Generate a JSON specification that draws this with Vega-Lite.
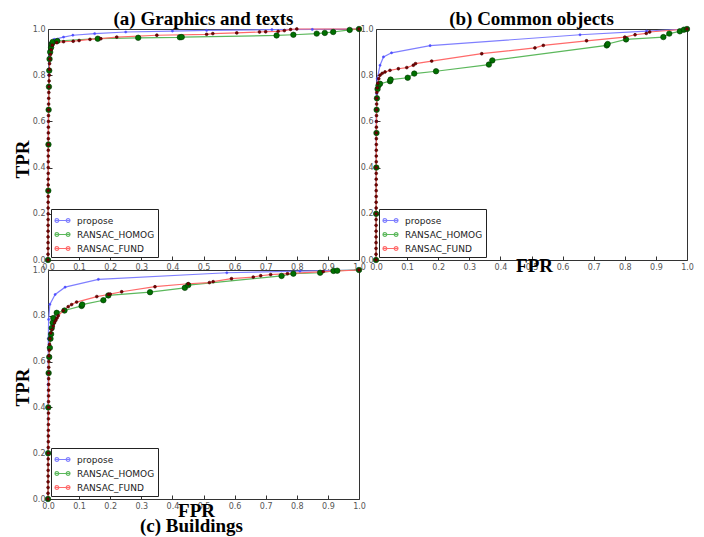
{
  "$schema": "https://vega.github.io/schema/vega-lite/v6.json",
  "padding": {"left": 12, "top": 9, "right": 0, "bottom": 0},
  "background": "white",
  "bounds": "flush",
  "columns": 2,
  "spacing": {"row": 10, "column": 17},
  "resolve": {"scale": {"color": "independent"}, "legend": {"color": "independent"}},
  "datasets": {
    "roc": [
      {"panel": "a", "method": "propose", "fpr": 0, "tpr": 0},
      {"panel": "a", "method": "propose", "fpr": 0.001, "tpr": 0.5},
      {"panel": "a", "method": "propose", "fpr": 0.002, "tpr": 0.8},
      {"panel": "a", "method": "propose", "fpr": 0.004, "tpr": 0.9},
      {"panel": "a", "method": "propose", "fpr": 0.008, "tpr": 0.94},
      {"panel": "a", "method": "propose", "fpr": 0.02, "tpr": 0.955},
      {"panel": "a", "method": "propose", "fpr": 0.05, "tpr": 0.965},
      {"panel": "a", "method": "propose", "fpr": 0.08, "tpr": 0.973},
      {"panel": "a", "method": "propose", "fpr": 0.15, "tpr": 0.98},
      {"panel": "a", "method": "propose", "fpr": 0.25, "tpr": 0.987},
      {"panel": "a", "method": "propose", "fpr": 0.4, "tpr": 0.991},
      {"panel": "a", "method": "propose", "fpr": 0.51, "tpr": 0.994},
      {"panel": "a", "method": "propose", "fpr": 0.72, "tpr": 0.997},
      {"panel": "a", "method": "propose", "fpr": 0.85, "tpr": 0.998},
      {"panel": "a", "method": "propose", "fpr": 1, "tpr": 1},
      {"panel": "a", "method": "RANSAC_HOMOG", "fpr": 0, "tpr": 0},
      {"panel": "a", "method": "RANSAC_HOMOG", "fpr": 0.001, "tpr": 0.3},
      {"panel": "a", "method": "RANSAC_HOMOG", "fpr": 0.0015, "tpr": 0.5},
      {"panel": "a", "method": "RANSAC_HOMOG", "fpr": 0.002, "tpr": 0.65},
      {"panel": "a", "method": "RANSAC_HOMOG", "fpr": 0.003, "tpr": 0.75},
      {"panel": "a", "method": "RANSAC_HOMOG", "fpr": 0.004, "tpr": 0.82},
      {"panel": "a", "method": "RANSAC_HOMOG", "fpr": 0.005, "tpr": 0.87},
      {"panel": "a", "method": "RANSAC_HOMOG", "fpr": 0.007, "tpr": 0.9},
      {"panel": "a", "method": "RANSAC_HOMOG", "fpr": 0.01, "tpr": 0.92},
      {"panel": "a", "method": "RANSAC_HOMOG", "fpr": 0.012, "tpr": 0.935},
      {"panel": "a", "method": "RANSAC_HOMOG", "fpr": 0.015, "tpr": 0.944},
      {"panel": "a", "method": "RANSAC_HOMOG", "fpr": 0.03, "tpr": 0.948},
      {"panel": "a", "method": "RANSAC_HOMOG", "fpr": 0.16, "tpr": 0.958},
      {"panel": "a", "method": "RANSAC_HOMOG", "fpr": 0.29, "tpr": 0.962},
      {"panel": "a", "method": "RANSAC_HOMOG", "fpr": 0.424, "tpr": 0.964},
      {"panel": "a", "method": "RANSAC_HOMOG", "fpr": 0.43, "tpr": 0.965},
      {"panel": "a", "method": "RANSAC_HOMOG", "fpr": 0.735, "tpr": 0.972},
      {"panel": "a", "method": "RANSAC_HOMOG", "fpr": 0.789, "tpr": 0.975},
      {"panel": "a", "method": "RANSAC_HOMOG", "fpr": 0.864, "tpr": 0.98},
      {"panel": "a", "method": "RANSAC_HOMOG", "fpr": 0.89, "tpr": 0.983},
      {"panel": "a", "method": "RANSAC_HOMOG", "fpr": 0.917, "tpr": 0.987},
      {"panel": "a", "method": "RANSAC_HOMOG", "fpr": 0.97, "tpr": 0.996},
      {"panel": "a", "method": "RANSAC_HOMOG", "fpr": 1, "tpr": 1},
      {"panel": "a", "method": "RANSAC_FUND", "fpr": 0, "tpr": 0},
      {"panel": "a", "method": "RANSAC_FUND", "fpr": 0.00005, "tpr": 0.025},
      {"panel": "a", "method": "RANSAC_FUND", "fpr": 0.0001, "tpr": 0.05},
      {"panel": "a", "method": "RANSAC_FUND", "fpr": 0.00015, "tpr": 0.075},
      {"panel": "a", "method": "RANSAC_FUND", "fpr": 0.0002, "tpr": 0.1},
      {"panel": "a", "method": "RANSAC_FUND", "fpr": 0.00025, "tpr": 0.125},
      {"panel": "a", "method": "RANSAC_FUND", "fpr": 0.0003, "tpr": 0.15},
      {"panel": "a", "method": "RANSAC_FUND", "fpr": 0.00035, "tpr": 0.175},
      {"panel": "a", "method": "RANSAC_FUND", "fpr": 0.0004, "tpr": 0.2},
      {"panel": "a", "method": "RANSAC_FUND", "fpr": 0.00045, "tpr": 0.225},
      {"panel": "a", "method": "RANSAC_FUND", "fpr": 0.0005, "tpr": 0.25},
      {"panel": "a", "method": "RANSAC_FUND", "fpr": 0.00055, "tpr": 0.275},
      {"panel": "a", "method": "RANSAC_FUND", "fpr": 0.0006, "tpr": 0.3},
      {"panel": "a", "method": "RANSAC_FUND", "fpr": 0.00065, "tpr": 0.325},
      {"panel": "a", "method": "RANSAC_FUND", "fpr": 0.0007, "tpr": 0.35},
      {"panel": "a", "method": "RANSAC_FUND", "fpr": 0.00075, "tpr": 0.375},
      {"panel": "a", "method": "RANSAC_FUND", "fpr": 0.0008, "tpr": 0.4},
      {"panel": "a", "method": "RANSAC_FUND", "fpr": 0.00085, "tpr": 0.425},
      {"panel": "a", "method": "RANSAC_FUND", "fpr": 0.0009, "tpr": 0.45},
      {"panel": "a", "method": "RANSAC_FUND", "fpr": 0.00095, "tpr": 0.475},
      {"panel": "a", "method": "RANSAC_FUND", "fpr": 0.001, "tpr": 0.5},
      {"panel": "a", "method": "RANSAC_FUND", "fpr": 0.0011, "tpr": 0.525},
      {"panel": "a", "method": "RANSAC_FUND", "fpr": 0.0012, "tpr": 0.55},
      {"panel": "a", "method": "RANSAC_FUND", "fpr": 0.0013, "tpr": 0.575},
      {"panel": "a", "method": "RANSAC_FUND", "fpr": 0.0014, "tpr": 0.6},
      {"panel": "a", "method": "RANSAC_FUND", "fpr": 0.0016, "tpr": 0.625},
      {"panel": "a", "method": "RANSAC_FUND", "fpr": 0.0018, "tpr": 0.65},
      {"panel": "a", "method": "RANSAC_FUND", "fpr": 0.002, "tpr": 0.675},
      {"panel": "a", "method": "RANSAC_FUND", "fpr": 0.0023, "tpr": 0.7},
      {"panel": "a", "method": "RANSAC_FUND", "fpr": 0.0026, "tpr": 0.725},
      {"panel": "a", "method": "RANSAC_FUND", "fpr": 0.003, "tpr": 0.75},
      {"panel": "a", "method": "RANSAC_FUND", "fpr": 0.0035, "tpr": 0.775},
      {"panel": "a", "method": "RANSAC_FUND", "fpr": 0.004, "tpr": 0.8},
      {"panel": "a", "method": "RANSAC_FUND", "fpr": 0.0045, "tpr": 0.825},
      {"panel": "a", "method": "RANSAC_FUND", "fpr": 0.005, "tpr": 0.85},
      {"panel": "a", "method": "RANSAC_FUND", "fpr": 0.006, "tpr": 0.87},
      {"panel": "a", "method": "RANSAC_FUND", "fpr": 0.008, "tpr": 0.89},
      {"panel": "a", "method": "RANSAC_FUND", "fpr": 0.01, "tpr": 0.91},
      {"panel": "a", "method": "RANSAC_FUND", "fpr": 0.014, "tpr": 0.93},
      {"panel": "a", "method": "RANSAC_FUND", "fpr": 0.028, "tpr": 0.941},
      {"panel": "a", "method": "RANSAC_FUND", "fpr": 0.05, "tpr": 0.945},
      {"panel": "a", "method": "RANSAC_FUND", "fpr": 0.081, "tpr": 0.947},
      {"panel": "a", "method": "RANSAC_FUND", "fpr": 0.1, "tpr": 0.95},
      {"panel": "a", "method": "RANSAC_FUND", "fpr": 0.135, "tpr": 0.955},
      {"panel": "a", "method": "RANSAC_FUND", "fpr": 0.17, "tpr": 0.958},
      {"panel": "a", "method": "RANSAC_FUND", "fpr": 0.221, "tpr": 0.965},
      {"panel": "a", "method": "RANSAC_FUND", "fpr": 0.35, "tpr": 0.973},
      {"panel": "a", "method": "RANSAC_FUND", "fpr": 0.51, "tpr": 0.977},
      {"panel": "a", "method": "RANSAC_FUND", "fpr": 0.53, "tpr": 0.98},
      {"panel": "a", "method": "RANSAC_FUND", "fpr": 0.607, "tpr": 0.983},
      {"panel": "a", "method": "RANSAC_FUND", "fpr": 0.68, "tpr": 0.987},
      {"panel": "a", "method": "RANSAC_FUND", "fpr": 0.7, "tpr": 0.988},
      {"panel": "a", "method": "RANSAC_FUND", "fpr": 0.74, "tpr": 0.99},
      {"panel": "a", "method": "RANSAC_FUND", "fpr": 0.76, "tpr": 0.993},
      {"panel": "a", "method": "RANSAC_FUND", "fpr": 0.78, "tpr": 0.998},
      {"panel": "a", "method": "RANSAC_FUND", "fpr": 0.8, "tpr": 1},
      {"panel": "a", "method": "RANSAC_FUND", "fpr": 1, "tpr": 1},

      {"panel": "b", "method": "propose", "fpr": 0, "tpr": 0},
      {"panel": "b", "method": "propose", "fpr": 0.0005, "tpr": 0.4},
      {"panel": "b", "method": "propose", "fpr": 0.001, "tpr": 0.6},
      {"panel": "b", "method": "propose", "fpr": 0.002, "tpr": 0.72},
      {"panel": "b", "method": "propose", "fpr": 0.004, "tpr": 0.785},
      {"panel": "b", "method": "propose", "fpr": 0.013, "tpr": 0.843},
      {"panel": "b", "method": "propose", "fpr": 0.024, "tpr": 0.879},
      {"panel": "b", "method": "propose", "fpr": 0.05, "tpr": 0.897},
      {"panel": "b", "method": "propose", "fpr": 0.174, "tpr": 0.928},
      {"panel": "b", "method": "propose", "fpr": 0.656, "tpr": 0.975},
      {"panel": "b", "method": "propose", "fpr": 0.87, "tpr": 0.991},
      {"panel": "b", "method": "propose", "fpr": 1, "tpr": 1},
      {"panel": "b", "method": "RANSAC_HOMOG", "fpr": 0, "tpr": 0},
      {"panel": "b", "method": "RANSAC_HOMOG", "fpr": 0.0005, "tpr": 0.2},
      {"panel": "b", "method": "RANSAC_HOMOG", "fpr": 0.001, "tpr": 0.4},
      {"panel": "b", "method": "RANSAC_HOMOG", "fpr": 0.0015, "tpr": 0.55},
      {"panel": "b", "method": "RANSAC_HOMOG", "fpr": 0.002, "tpr": 0.65},
      {"panel": "b", "method": "RANSAC_HOMOG", "fpr": 0.003, "tpr": 0.7},
      {"panel": "b", "method": "RANSAC_HOMOG", "fpr": 0.005, "tpr": 0.74},
      {"panel": "b", "method": "RANSAC_HOMOG", "fpr": 0.008, "tpr": 0.755},
      {"panel": "b", "method": "RANSAC_HOMOG", "fpr": 0.013, "tpr": 0.763},
      {"panel": "b", "method": "RANSAC_HOMOG", "fpr": 0.045, "tpr": 0.774},
      {"panel": "b", "method": "RANSAC_HOMOG", "fpr": 0.047, "tpr": 0.781},
      {"panel": "b", "method": "RANSAC_HOMOG", "fpr": 0.102, "tpr": 0.789},
      {"panel": "b", "method": "RANSAC_HOMOG", "fpr": 0.123, "tpr": 0.807},
      {"panel": "b", "method": "RANSAC_HOMOG", "fpr": 0.193, "tpr": 0.817},
      {"panel": "b", "method": "RANSAC_HOMOG", "fpr": 0.363, "tpr": 0.846},
      {"panel": "b", "method": "RANSAC_HOMOG", "fpr": 0.374, "tpr": 0.864},
      {"panel": "b", "method": "RANSAC_HOMOG", "fpr": 0.742, "tpr": 0.929},
      {"panel": "b", "method": "RANSAC_HOMOG", "fpr": 0.745, "tpr": 0.935},
      {"panel": "b", "method": "RANSAC_HOMOG", "fpr": 0.804, "tpr": 0.955},
      {"panel": "b", "method": "RANSAC_HOMOG", "fpr": 0.924, "tpr": 0.965},
      {"panel": "b", "method": "RANSAC_HOMOG", "fpr": 0.943, "tpr": 0.98},
      {"panel": "b", "method": "RANSAC_HOMOG", "fpr": 0.977, "tpr": 0.99},
      {"panel": "b", "method": "RANSAC_HOMOG", "fpr": 0.99, "tpr": 0.997},
      {"panel": "b", "method": "RANSAC_HOMOG", "fpr": 1, "tpr": 1},
      {"panel": "b", "method": "RANSAC_FUND", "fpr": 0, "tpr": 0},
      {"panel": "b", "method": "RANSAC_FUND", "fpr": 0.00005, "tpr": 0.025},
      {"panel": "b", "method": "RANSAC_FUND", "fpr": 0.0001, "tpr": 0.05},
      {"panel": "b", "method": "RANSAC_FUND", "fpr": 0.00015, "tpr": 0.075},
      {"panel": "b", "method": "RANSAC_FUND", "fpr": 0.0002, "tpr": 0.1},
      {"panel": "b", "method": "RANSAC_FUND", "fpr": 0.00025, "tpr": 0.125},
      {"panel": "b", "method": "RANSAC_FUND", "fpr": 0.0003, "tpr": 0.15},
      {"panel": "b", "method": "RANSAC_FUND", "fpr": 0.00035, "tpr": 0.175},
      {"panel": "b", "method": "RANSAC_FUND", "fpr": 0.0004, "tpr": 0.2},
      {"panel": "b", "method": "RANSAC_FUND", "fpr": 0.00045, "tpr": 0.225},
      {"panel": "b", "method": "RANSAC_FUND", "fpr": 0.0005, "tpr": 0.25},
      {"panel": "b", "method": "RANSAC_FUND", "fpr": 0.00055, "tpr": 0.275},
      {"panel": "b", "method": "RANSAC_FUND", "fpr": 0.0006, "tpr": 0.3},
      {"panel": "b", "method": "RANSAC_FUND", "fpr": 0.00065, "tpr": 0.325},
      {"panel": "b", "method": "RANSAC_FUND", "fpr": 0.0007, "tpr": 0.35},
      {"panel": "b", "method": "RANSAC_FUND", "fpr": 0.00075, "tpr": 0.375},
      {"panel": "b", "method": "RANSAC_FUND", "fpr": 0.0008, "tpr": 0.4},
      {"panel": "b", "method": "RANSAC_FUND", "fpr": 0.00085, "tpr": 0.425},
      {"panel": "b", "method": "RANSAC_FUND", "fpr": 0.0009, "tpr": 0.45},
      {"panel": "b", "method": "RANSAC_FUND", "fpr": 0.00095, "tpr": 0.475},
      {"panel": "b", "method": "RANSAC_FUND", "fpr": 0.001, "tpr": 0.5},
      {"panel": "b", "method": "RANSAC_FUND", "fpr": 0.0011, "tpr": 0.525},
      {"panel": "b", "method": "RANSAC_FUND", "fpr": 0.0012, "tpr": 0.55},
      {"panel": "b", "method": "RANSAC_FUND", "fpr": 0.0013, "tpr": 0.575},
      {"panel": "b", "method": "RANSAC_FUND", "fpr": 0.0014, "tpr": 0.6},
      {"panel": "b", "method": "RANSAC_FUND", "fpr": 0.0016, "tpr": 0.625},
      {"panel": "b", "method": "RANSAC_FUND", "fpr": 0.0018, "tpr": 0.65},
      {"panel": "b", "method": "RANSAC_FUND", "fpr": 0.002, "tpr": 0.675},
      {"panel": "b", "method": "RANSAC_FUND", "fpr": 0.0023, "tpr": 0.7},
      {"panel": "b", "method": "RANSAC_FUND", "fpr": 0.0026, "tpr": 0.725},
      {"panel": "b", "method": "RANSAC_FUND", "fpr": 0.004, "tpr": 0.745},
      {"panel": "b", "method": "RANSAC_FUND", "fpr": 0.006, "tpr": 0.765},
      {"panel": "b", "method": "RANSAC_FUND", "fpr": 0.009, "tpr": 0.785},
      {"panel": "b", "method": "RANSAC_FUND", "fpr": 0.013, "tpr": 0.8},
      {"panel": "b", "method": "RANSAC_FUND", "fpr": 0.02, "tpr": 0.808},
      {"panel": "b", "method": "RANSAC_FUND", "fpr": 0.029, "tpr": 0.814},
      {"panel": "b", "method": "RANSAC_FUND", "fpr": 0.045, "tpr": 0.821},
      {"panel": "b", "method": "RANSAC_FUND", "fpr": 0.072, "tpr": 0.828},
      {"panel": "b", "method": "RANSAC_FUND", "fpr": 0.099, "tpr": 0.833},
      {"panel": "b", "method": "RANSAC_FUND", "fpr": 0.12, "tpr": 0.843},
      {"panel": "b", "method": "RANSAC_FUND", "fpr": 0.127, "tpr": 0.85},
      {"panel": "b", "method": "RANSAC_FUND", "fpr": 0.179, "tpr": 0.861},
      {"panel": "b", "method": "RANSAC_FUND", "fpr": 0.34, "tpr": 0.893},
      {"panel": "b", "method": "RANSAC_FUND", "fpr": 0.511, "tpr": 0.918},
      {"panel": "b", "method": "RANSAC_FUND", "fpr": 0.538, "tpr": 0.929},
      {"panel": "b", "method": "RANSAC_FUND", "fpr": 0.677, "tpr": 0.949},
      {"panel": "b", "method": "RANSAC_FUND", "fpr": 0.8, "tpr": 0.965},
      {"panel": "b", "method": "RANSAC_FUND", "fpr": 0.833, "tpr": 0.975},
      {"panel": "b", "method": "RANSAC_FUND", "fpr": 0.869, "tpr": 0.981},
      {"panel": "b", "method": "RANSAC_FUND", "fpr": 0.88, "tpr": 0.987},
      {"panel": "b", "method": "RANSAC_FUND", "fpr": 1, "tpr": 1},

      {"panel": "c", "method": "propose", "fpr": 0, "tpr": 0},
      {"panel": "c", "method": "propose", "fpr": 0.0005, "tpr": 0.5},
      {"panel": "c", "method": "propose", "fpr": 0.001, "tpr": 0.7},
      {"panel": "c", "method": "propose", "fpr": 0.002, "tpr": 0.784},
      {"panel": "c", "method": "propose", "fpr": 0.006, "tpr": 0.85},
      {"panel": "c", "method": "propose", "fpr": 0.023, "tpr": 0.893},
      {"panel": "c", "method": "propose", "fpr": 0.055, "tpr": 0.925},
      {"panel": "c", "method": "propose", "fpr": 0.162, "tpr": 0.959},
      {"panel": "c", "method": "propose", "fpr": 0.575, "tpr": 0.988},
      {"panel": "c", "method": "propose", "fpr": 0.81, "tpr": 0.995},
      {"panel": "c", "method": "propose", "fpr": 1, "tpr": 1},
      {"panel": "c", "method": "RANSAC_HOMOG", "fpr": 0, "tpr": 0},
      {"panel": "c", "method": "RANSAC_HOMOG", "fpr": 0.0005, "tpr": 0.2},
      {"panel": "c", "method": "RANSAC_HOMOG", "fpr": 0.001, "tpr": 0.4},
      {"panel": "c", "method": "RANSAC_HOMOG", "fpr": 0.002, "tpr": 0.55},
      {"panel": "c", "method": "RANSAC_HOMOG", "fpr": 0.004, "tpr": 0.62},
      {"panel": "c", "method": "RANSAC_HOMOG", "fpr": 0.006, "tpr": 0.66},
      {"panel": "c", "method": "RANSAC_HOMOG", "fpr": 0.008, "tpr": 0.7},
      {"panel": "c", "method": "RANSAC_HOMOG", "fpr": 0.01, "tpr": 0.72},
      {"panel": "c", "method": "RANSAC_HOMOG", "fpr": 0.012, "tpr": 0.747},
      {"panel": "c", "method": "RANSAC_HOMOG", "fpr": 0.015, "tpr": 0.77},
      {"panel": "c", "method": "RANSAC_HOMOG", "fpr": 0.017, "tpr": 0.79},
      {"panel": "c", "method": "RANSAC_HOMOG", "fpr": 0.028, "tpr": 0.813},
      {"panel": "c", "method": "RANSAC_HOMOG", "fpr": 0.053, "tpr": 0.823},
      {"panel": "c", "method": "RANSAC_HOMOG", "fpr": 0.108, "tpr": 0.843},
      {"panel": "c", "method": "RANSAC_HOMOG", "fpr": 0.11, "tpr": 0.849},
      {"panel": "c", "method": "RANSAC_HOMOG", "fpr": 0.178, "tpr": 0.868},
      {"panel": "c", "method": "RANSAC_HOMOG", "fpr": 0.194, "tpr": 0.889},
      {"panel": "c", "method": "RANSAC_HOMOG", "fpr": 0.328, "tpr": 0.903},
      {"panel": "c", "method": "RANSAC_HOMOG", "fpr": 0.44, "tpr": 0.922},
      {"panel": "c", "method": "RANSAC_HOMOG", "fpr": 0.451, "tpr": 0.934},
      {"panel": "c", "method": "RANSAC_HOMOG", "fpr": 0.751, "tpr": 0.974},
      {"panel": "c", "method": "RANSAC_HOMOG", "fpr": 0.789, "tpr": 0.984},
      {"panel": "c", "method": "RANSAC_HOMOG", "fpr": 0.875, "tpr": 0.988},
      {"panel": "c", "method": "RANSAC_HOMOG", "fpr": 0.918, "tpr": 0.996},
      {"panel": "c", "method": "RANSAC_HOMOG", "fpr": 0.93, "tpr": 0.997},
      {"panel": "c", "method": "RANSAC_HOMOG", "fpr": 1, "tpr": 1},
      {"panel": "c", "method": "RANSAC_FUND", "fpr": 0, "tpr": 0},
      {"panel": "c", "method": "RANSAC_FUND", "fpr": 0.0001, "tpr": 0.025},
      {"panel": "c", "method": "RANSAC_FUND", "fpr": 0.0002, "tpr": 0.05},
      {"panel": "c", "method": "RANSAC_FUND", "fpr": 0.0003, "tpr": 0.075},
      {"panel": "c", "method": "RANSAC_FUND", "fpr": 0.0004, "tpr": 0.1},
      {"panel": "c", "method": "RANSAC_FUND", "fpr": 0.0005, "tpr": 0.125},
      {"panel": "c", "method": "RANSAC_FUND", "fpr": 0.0006, "tpr": 0.15},
      {"panel": "c", "method": "RANSAC_FUND", "fpr": 0.0007, "tpr": 0.175},
      {"panel": "c", "method": "RANSAC_FUND", "fpr": 0.0008, "tpr": 0.2},
      {"panel": "c", "method": "RANSAC_FUND", "fpr": 0.0009, "tpr": 0.225},
      {"panel": "c", "method": "RANSAC_FUND", "fpr": 0.001, "tpr": 0.25},
      {"panel": "c", "method": "RANSAC_FUND", "fpr": 0.0011, "tpr": 0.275},
      {"panel": "c", "method": "RANSAC_FUND", "fpr": 0.0012, "tpr": 0.3},
      {"panel": "c", "method": "RANSAC_FUND", "fpr": 0.0013, "tpr": 0.325},
      {"panel": "c", "method": "RANSAC_FUND", "fpr": 0.0014, "tpr": 0.35},
      {"panel": "c", "method": "RANSAC_FUND", "fpr": 0.0015, "tpr": 0.375},
      {"panel": "c", "method": "RANSAC_FUND", "fpr": 0.0016, "tpr": 0.4},
      {"panel": "c", "method": "RANSAC_FUND", "fpr": 0.0017, "tpr": 0.425},
      {"panel": "c", "method": "RANSAC_FUND", "fpr": 0.0018, "tpr": 0.45},
      {"panel": "c", "method": "RANSAC_FUND", "fpr": 0.0019, "tpr": 0.475},
      {"panel": "c", "method": "RANSAC_FUND", "fpr": 0.002, "tpr": 0.5},
      {"panel": "c", "method": "RANSAC_FUND", "fpr": 0.0021, "tpr": 0.525},
      {"panel": "c", "method": "RANSAC_FUND", "fpr": 0.0022, "tpr": 0.55},
      {"panel": "c", "method": "RANSAC_FUND", "fpr": 0.0023, "tpr": 0.575},
      {"panel": "c", "method": "RANSAC_FUND", "fpr": 0.0024, "tpr": 0.6},
      {"panel": "c", "method": "RANSAC_FUND", "fpr": 0.003, "tpr": 0.625},
      {"panel": "c", "method": "RANSAC_FUND", "fpr": 0.004, "tpr": 0.65},
      {"panel": "c", "method": "RANSAC_FUND", "fpr": 0.005, "tpr": 0.675},
      {"panel": "c", "method": "RANSAC_FUND", "fpr": 0.0065, "tpr": 0.7},
      {"panel": "c", "method": "RANSAC_FUND", "fpr": 0.009, "tpr": 0.725},
      {"panel": "c", "method": "RANSAC_FUND", "fpr": 0.013, "tpr": 0.74},
      {"panel": "c", "method": "RANSAC_FUND", "fpr": 0.017, "tpr": 0.755},
      {"panel": "c", "method": "RANSAC_FUND", "fpr": 0.021, "tpr": 0.77},
      {"panel": "c", "method": "RANSAC_FUND", "fpr": 0.025, "tpr": 0.78},
      {"panel": "c", "method": "RANSAC_FUND", "fpr": 0.029, "tpr": 0.79},
      {"panel": "c", "method": "RANSAC_FUND", "fpr": 0.033, "tpr": 0.8},
      {"panel": "c", "method": "RANSAC_FUND", "fpr": 0.049, "tpr": 0.823},
      {"panel": "c", "method": "RANSAC_FUND", "fpr": 0.065, "tpr": 0.84},
      {"panel": "c", "method": "RANSAC_FUND", "fpr": 0.076, "tpr": 0.849},
      {"panel": "c", "method": "RANSAC_FUND", "fpr": 0.092, "tpr": 0.86},
      {"panel": "c", "method": "RANSAC_FUND", "fpr": 0.157, "tpr": 0.884},
      {"panel": "c", "method": "RANSAC_FUND", "fpr": 0.194, "tpr": 0.893},
      {"panel": "c", "method": "RANSAC_FUND", "fpr": 0.2, "tpr": 0.895},
      {"panel": "c", "method": "RANSAC_FUND", "fpr": 0.237, "tpr": 0.905},
      {"panel": "c", "method": "RANSAC_FUND", "fpr": 0.344, "tpr": 0.927},
      {"panel": "c", "method": "RANSAC_FUND", "fpr": 0.451, "tpr": 0.94},
      {"panel": "c", "method": "RANSAC_FUND", "fpr": 0.519, "tpr": 0.945},
      {"panel": "c", "method": "RANSAC_FUND", "fpr": 0.531, "tpr": 0.949},
      {"panel": "c", "method": "RANSAC_FUND", "fpr": 0.59, "tpr": 0.962},
      {"panel": "c", "method": "RANSAC_FUND", "fpr": 0.66, "tpr": 0.969},
      {"panel": "c", "method": "RANSAC_FUND", "fpr": 0.684, "tpr": 0.975},
      {"panel": "c", "method": "RANSAC_FUND", "fpr": 0.716, "tpr": 0.98},
      {"panel": "c", "method": "RANSAC_FUND", "fpr": 0.77, "tpr": 0.984},
      {"panel": "c", "method": "RANSAC_FUND", "fpr": 0.885, "tpr": 0.993},
      {"panel": "c", "method": "RANSAC_FUND", "fpr": 1, "tpr": 1}
    ]
  },
  "concat": [
    {
      "width": 311, "height": 231,
      "title": {"text": "(a) Graphics and texts"},
      "data": {"name": "roc"},
      "transform": [{"filter": "datum.panel === 'a'"}],
      "layer": [
        {
          "mark": {"type": "line", "strokeWidth": 1.2},
          "encoding": {
            "x": {"field": "fpr", "type": "quantitative", "scale": {"domain": [0, 1], "nice": false, "zero": false}, "axis": {"title": null}},
            "y": {"field": "tpr", "type": "quantitative", "scale": {"domain": [0, 1], "nice": false, "zero": false}, "axis": {"title": "TPR", "titleX": -20, "titleY": 130, "titleBaseline": "alphabetic"}},
            "color": {"field": "method", "type": "nominal", "scale": {"domain": ["propose", "RANSAC_HOMOG", "RANSAC_FUND"], "range": ["#7f7fff", "#5cb85c", "#ff6a6a"]}, "legend": {"symbolSize": 225}}
          }
        },
        {"transform": [{"filter": "datum.method === 'propose'"}], "mark": {"type": "point", "filled": true, "opacity": 1, "size": 5, "fill": "#4d4dff", "stroke": "#4d4dff", "strokeWidth": 0.5}, "encoding": {"x": {"field": "fpr", "type": "quantitative"}, "y": {"field": "tpr", "type": "quantitative"}}},
        {"transform": [{"filter": "datum.method === 'RANSAC_HOMOG'"}], "mark": {"type": "point", "filled": true, "opacity": 1, "size": 30, "fill": "#007000", "stroke": "#003300", "strokeWidth": 0.6}, "encoding": {"x": {"field": "fpr", "type": "quantitative"}, "y": {"field": "tpr", "type": "quantitative"}}},
        {"transform": [{"filter": "datum.method === 'RANSAC_FUND'"}], "mark": {"type": "point", "filled": true, "opacity": 1, "size": 8, "fill": "#7a0000", "stroke": "#400000", "strokeWidth": 0.6}, "encoding": {"x": {"field": "fpr", "type": "quantitative"}, "y": {"field": "tpr", "type": "quantitative"}}}
      ]
    },
    {
      "width": 311, "height": 231,
      "title": {"text": "(b) Common objects"},
      "data": {"name": "roc"},
      "transform": [{"filter": "datum.panel === 'b'"}],
      "layer": [
        {
          "mark": {"type": "line", "strokeWidth": 1.2},
          "encoding": {
            "x": {"field": "fpr", "type": "quantitative", "scale": {"domain": [0, 1], "nice": false, "zero": false}, "axis": {"title": "FPR", "titleX": 158, "titleY": 11, "titleBaseline": "alphabetic"}},
            "y": {"field": "tpr", "type": "quantitative", "scale": {"domain": [0, 1], "nice": false, "zero": false}, "axis": {"title": null}},
            "color": {"field": "method", "type": "nominal", "scale": {"domain": ["propose", "RANSAC_HOMOG", "RANSAC_FUND"], "range": ["#7f7fff", "#5cb85c", "#ff6a6a"]}, "legend": {"symbolSize": 225}}
          }
        },
        {"transform": [{"filter": "datum.method === 'propose'"}], "mark": {"type": "point", "filled": true, "opacity": 1, "size": 5, "fill": "#4d4dff", "stroke": "#4d4dff", "strokeWidth": 0.5}, "encoding": {"x": {"field": "fpr", "type": "quantitative"}, "y": {"field": "tpr", "type": "quantitative"}}},
        {"transform": [{"filter": "datum.method === 'RANSAC_HOMOG'"}], "mark": {"type": "point", "filled": true, "opacity": 1, "size": 30, "fill": "#007000", "stroke": "#003300", "strokeWidth": 0.6}, "encoding": {"x": {"field": "fpr", "type": "quantitative"}, "y": {"field": "tpr", "type": "quantitative"}}},
        {"transform": [{"filter": "datum.method === 'RANSAC_FUND'"}], "mark": {"type": "point", "filled": true, "opacity": 1, "size": 8, "fill": "#7a0000", "stroke": "#400000", "strokeWidth": 0.6}, "encoding": {"x": {"field": "fpr", "type": "quantitative"}, "y": {"field": "tpr", "type": "quantitative"}}}
      ]
    },
    {
      "width": 311, "height": 229,
      "title": {"text": "(c) Buildings", "orient": "bottom", "dx": -12, "offset": -3},
      "data": {"name": "roc"},
      "transform": [{"filter": "datum.panel === 'c'"}],
      "layer": [
        {
          "mark": {"type": "line", "strokeWidth": 1.2},
          "encoding": {
            "x": {"field": "fpr", "type": "quantitative", "scale": {"domain": [0, 1], "nice": false, "zero": false}, "axis": {"title": "FPR", "titleX": 148, "titleY": 17, "titleBaseline": "alphabetic"}},
            "y": {"field": "tpr", "type": "quantitative", "scale": {"domain": [0, 1], "nice": false, "zero": false}, "axis": {"title": "TPR", "titleX": -20, "titleY": 117, "titleBaseline": "alphabetic"}},
            "color": {"field": "method", "type": "nominal", "scale": {"domain": ["propose", "RANSAC_HOMOG", "RANSAC_FUND"], "range": ["#7f7fff", "#5cb85c", "#ff6a6a"]}, "legend": {"symbolSize": 225}}
          }
        },
        {"transform": [{"filter": "datum.method === 'propose'"}], "mark": {"type": "point", "filled": true, "opacity": 1, "size": 5, "fill": "#4d4dff", "stroke": "#4d4dff", "strokeWidth": 0.5}, "encoding": {"x": {"field": "fpr", "type": "quantitative"}, "y": {"field": "tpr", "type": "quantitative"}}},
        {"transform": [{"filter": "datum.method === 'RANSAC_HOMOG'"}], "mark": {"type": "point", "filled": true, "opacity": 1, "size": 30, "fill": "#007000", "stroke": "#003300", "strokeWidth": 0.6}, "encoding": {"x": {"field": "fpr", "type": "quantitative"}, "y": {"field": "tpr", "type": "quantitative"}}},
        {"transform": [{"filter": "datum.method === 'RANSAC_FUND'"}], "mark": {"type": "point", "filled": true, "opacity": 1, "size": 8, "fill": "#7a0000", "stroke": "#400000", "strokeWidth": 0.6}, "encoding": {"x": {"field": "fpr", "type": "quantitative"}, "y": {"field": "tpr", "type": "quantitative"}}}
      ]
    }
  ],
  "config": {
    "view": {"stroke": "#333", "strokeWidth": 1},
    "axis": {
      "values": [0, 0.2, 0.4, 0.6, 0.8, 1.0],
      "format": ".1f",
      "labelFont": "DejaVu Sans", "labelFontSize": 8, "labelColor": "#555",
      "labelFlush": false, "labelOverlap": false, "labelPadding": 7,
      "domain": false, "grid": false,
      "tickColor": "#333", "tickSize": -4,
      "titleFont": "Liberation Serif", "titleFontSize": 19, "titleFontWeight": "bold", "titleColor": "#000"
    },
    "title": {"font": "Liberation Serif", "fontSize": 19, "fontWeight": "bold", "color": "#000", "anchor": "middle", "offset": -4},
    "legend": {
      "title": null, "orient": "bottom-left", "offset": 3,
      "symbolType": "M-1,0H1M-1,0A0.25,0.25 0 1,0 -0.5,0A0.25,0.25 0 1,0 -1,0M0.5,0A0.25,0.25 0 1,0 1,0A0.25,0.25 0 1,0 0.5,0",
      "symbolSize": 225, "symbolStrokeWidth": 1.2,
      "labelFont": "DejaVu Sans", "labelFontSize": 9, "labelColor": "#222",
      "strokeColor": "#222", "fillColor": "#fff", "padding": 3, "rowPadding": -2, "labelOffset": 6
    }
  }
}
